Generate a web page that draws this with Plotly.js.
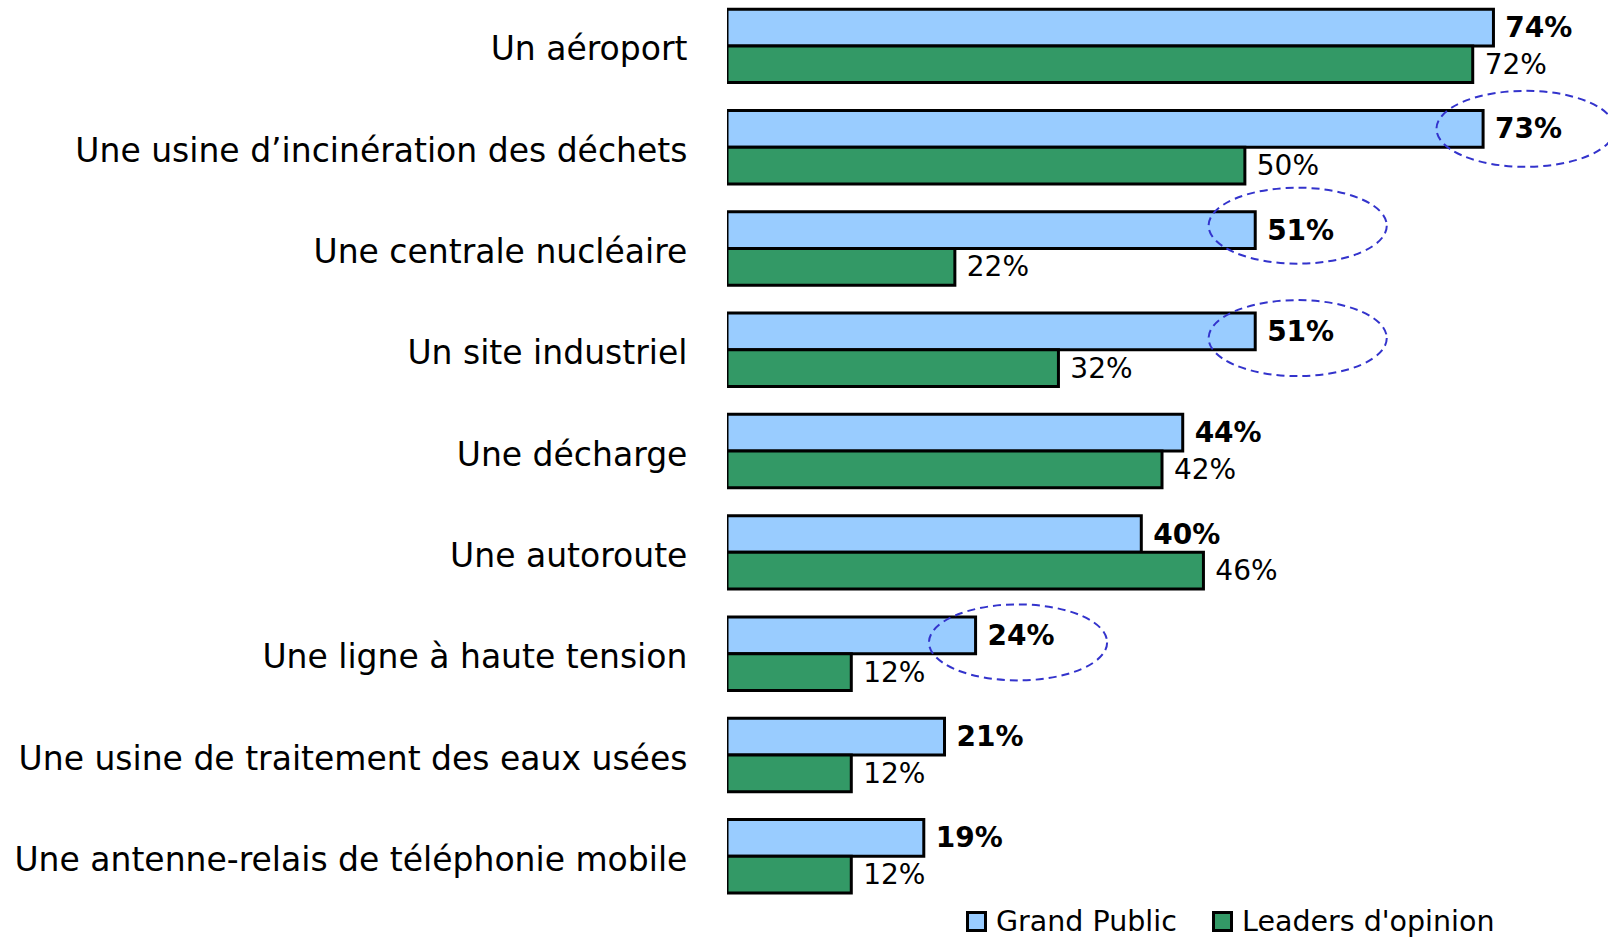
<!DOCTYPE html>
<html>
<head>
<meta charset="utf-8">
<script src="https://cdn.plot.ly/plotly-3.0.1.min.js"></script>
<style>
  html, body { margin: 0; padding: 0; background: #ffffff; }
  #chart { width: 1608px; height: 938px; }
</style>
</head>
<body>
<div id="chart"></div>
<script>
// ---- Data ----
const categories = [
  "Un aéroport",
  "Une usine d’incinération des déchets",
  "Une centrale nucléaire",
  "Un site industriel",
  "Une décharge",
  "Une autoroute",
  "Une ligne à haute tension",
  "Une usine de traitement des eaux usées",
  "Une antenne-relais de téléphonie mobile"
];
const grandPublic = [74, 73, 51, 51, 44, 40, 24, 21, 19];
const leadersOpinion = [72, 50, 22, 32, 42, 46, 12, 12, 12];
const seriesNames = ["Grand Public", "Leaders d'opinion"];
const seriesColors = ["#99CCFF", "#339966"];

// categories whose "Grand Public" label is circled in the reference
const highlighted = [1, 2, 3, 6];
const highlightShift = [0, -0.044, 0.066, 0.07];

// ---- Styling / layout constants ----
const FONT = "DejaVu Sans, Verdana, sans-serif";
const W = 1608, H = 938, ML = 727, MR = 0, MT = 0, MB = 0;
const BARGAP = 0.275;
const blueOffset = -(1 - BARGAP) / 4;
const px2paperX = (px) => (px - ML) / (W - ML - MR);
const px2paperY = (py) => (H - MB - py) / (H - MT - MB);

const traces = [
  {
    type: "bar",
    orientation: "h",
    name: seriesNames[0],
    y: categories,
    x: grandPublic,
    marker: { color: seriesColors[0], line: { color: "#000000", width: 3 } },
    texttemplate: "\u00a0<b>%{x}%</b>",
    textposition: "outside",
    constraintext: "none",
    cliponaxis: false,
    textfont: { family: FONT, size: 28, color: "#000000" },
    hoverinfo: "skip"
  },
  {
    type: "bar",
    orientation: "h",
    name: seriesNames[1],
    y: categories,
    x: leadersOpinion,
    marker: { color: seriesColors[1], line: { color: "#000000", width: 3 } },
    texttemplate: "\u00a0%{x}%",
    textposition: "outside",
    constraintext: "none",
    cliponaxis: false,
    textfont: { family: FONT, size: 28, color: "#000000" },
    hoverinfo: "skip"
  }
];

// dashed ellipses around circled labels
const shapes = highlighted.map((ci, k) => {
  const yc = ci + blueOffset + highlightShift[k];
  return {
    type: "circle",
    xref: "x", yref: "y",
    x0: grandPublic[ci] - 4.5, x1: grandPublic[ci] + 12.7,
    y0: yc - 0.375, y1: yc + 0.375,
    line: { color: "#3333CC", width: 2, dash: "8px,5px" },
    fillcolor: "rgba(0,0,0,0)",
    layer: "above"
  };
});

// legend drawn as square swatches + text (keeps the plot area unchanged)
const legendSwatchLeft = [967.5, 1213.5];
const legendTextLeft = [995, 1241];
const legendCenterY = 921.5;
const swatch = 18;
const annotations = [];
seriesNames.forEach((nm, i) => {
  shapes.push({
    type: "rect", xref: "paper", yref: "paper",
    x0: px2paperX(legendSwatchLeft[i]), x1: px2paperX(legendSwatchLeft[i] + swatch),
    y0: px2paperY(legendCenterY + swatch / 2), y1: px2paperY(legendCenterY - swatch / 2),
    fillcolor: seriesColors[i],
    line: { color: "#000000", width: 3 },
    layer: "above"
  });
  annotations.push({
    xref: "paper", yref: "paper",
    x: px2paperX(legendTextLeft[i]), y: px2paperY(legendCenterY),
    xanchor: "left", yanchor: "middle",
    text: nm, showarrow: false,
    font: { family: FONT, size: 28.5, color: "#000000" },
    borderpad: 0
  });
});

const layout = {
  width: W,
  height: H,
  margin: { l: ML, r: MR, t: MT, b: MB, pad: 0 },
  paper_bgcolor: "#ffffff",
  plot_bgcolor: "#ffffff",
  barmode: "group",
  bargap: BARGAP,
  bargroupgap: 0,
  font: { family: FONT, color: "#000000" },
  showlegend: false,
  xaxis: {
    range: [0, 85.06],
    showgrid: false, zeroline: false, showline: false,
    showticklabels: false, ticks: "", fixedrange: true
  },
  yaxis: {
    type: "category",
    range: [8.807, -0.453],
    showgrid: false, zeroline: false, showline: false,
    ticks: "outside", ticklen: 32, tickcolor: "rgba(0,0,0,0)",
    ticklabelshift: -3,
    tickfont: { family: FONT, size: 33, color: "#000000" },
    automargin: false, fixedrange: true
  },
  shapes: shapes,
  annotations: annotations
};

Plotly.newPlot("chart", traces, layout, { displayModeBar: false, staticPlot: true });
</script>
</body>
</html>
